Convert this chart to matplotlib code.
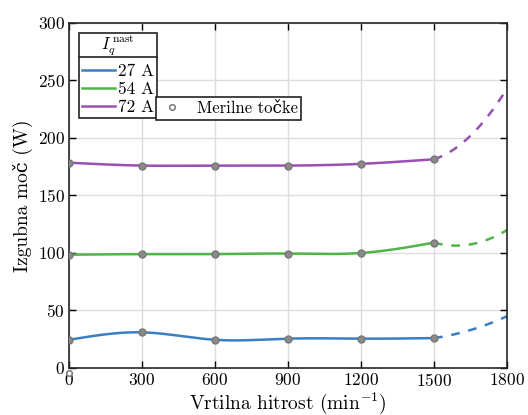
"""Izgubna moc v odvisnosti od vrtilne hitrosti"""

import numpy as np
import matplotlib
matplotlib.use("Agg")
import matplotlib.pyplot as plt
from matplotlib.lines import Line2D

plt.rcParams["font.family"] = ["cmr10", "DejaVu Serif"]
plt.rcParams["mathtext.fontset"] = "cm"
plt.rcParams["axes.formatter.use_mathtext"] = True
plt.rcParams["font.size"] = 12

# measured points
speed = [0, 300, 600, 900, 1200, 1500]
loss_27 = [24.5, 31.0, 24.5, 25.5, 25.5, 26.0]
loss_54 = [98.5, 99.0, 99.0, 99.5, 100.0, 109.0]
loss_72 = [178.5, 176.0, 176.0, 176.0, 177.5, 181.5]

# extrapolated part (dashed)
speed_ext = [1500, 1650, 1800]
ext_27 = [26.0, 33.0, 45.0]
ext_54 = [109.0, 107.5, 120.0]
ext_72 = [181.5, 202.0, 243.0]

labels = ["27 A", "54 A", "72 A"]
colors = ["#3b7fc2", "#4fb548", "#9a4fb4"]
legend_title = r"$I_q^{\,\mathrm{nast}}$"


def natural_spline(x, y, xs):
    x = np.asarray(x, float)
    y = np.asarray(y, float)
    n = len(x)
    h = np.diff(x)
    A = np.zeros((n, n))
    b = np.zeros(n)
    A[0, 0] = A[-1, -1] = 1
    for i in range(1, n - 1):
        A[i, i - 1] = h[i - 1]
        A[i, i] = 2 * (h[i - 1] + h[i])
        A[i, i + 1] = h[i]
        b[i] = 6 * ((y[i + 1] - y[i]) / h[i] - (y[i] - y[i - 1]) / h[i - 1])
    m = np.linalg.solve(A, b)
    k = np.clip(np.searchsorted(x, xs) - 1, 0, n - 2)
    t = xs - x[k]
    hk = h[k]
    a = (m[k + 1] - m[k]) / (6 * hk)
    c = (y[k + 1] - y[k]) / hk - hk * (2 * m[k] + m[k + 1]) / 6
    return y[k] + c * t + m[k] / 2 * t ** 2 + a * t ** 3


fig = plt.figure(figsize=(5.28, 4.15), dpi=100)
ax = fig.add_axes([0.1307, 0.1133, 0.8295, 0.8313])

xs = np.linspace(0, 1500, 300)
xe = np.linspace(1500, 1800, 100)
handles = []
for meas, ext, col, lab in zip([loss_27, loss_54, loss_72], [ext_27, ext_54, ext_72], colors, labels):
    h, = ax.plot(xs, natural_spline(speed, meas, xs), color=col, lw=1.8, label=lab)
    coef = np.polyfit(speed_ext, ext, 2)
    ax.plot(xe, np.polyval(coef, xe), color=col, lw=1.8, ls=(0, (3.5, 3.5)))
    ax.plot(speed, meas, "o", ms=5, mfc="#8a8a8a", mec="#777777", mew=1, zorder=5)
    handles.append(h)

# stray legend marker below origin
ax.plot([0], [-4], "o", ms=4, mfc="white", mec="#808080", mew=1.2, clip_on=False)

ax.set_xlim(0, 1800)
ax.set_ylim(0, 300)
ax.set_xticks(range(0, 1801, 300))
ax.set_yticks(range(0, 301, 50))
ax.grid(True, color="#dddddd", lw=1)
ax.set_axisbelow(True)
ax.tick_params(direction="in", top=True, right=True, length=5, width=1, labelsize=12.5, pad=3)
for s in ax.spines.values():
    s.set_linewidth(1.2)
    s.set_color("#262626")
ax.set_xlabel(r"Vrtilna hitrost (min$^{-1}$)", fontsize=14, labelpad=1)
ax.set_ylabel("Izgubna moč (W)", fontsize=14, labelpad=3)

leg1 = ax.legend(handles=handles, title=legend_title, loc="upper left",
                 bbox_to_anchor=(0.023, 0.971), fancybox=False, framealpha=1,
                 edgecolor="#222222", fontsize=12.5, title_fontsize=12,
                 handlelength=1.9, handletextpad=0.2, borderpad=0.15,
                 labelspacing=0.15, borderaxespad=0)
leg1.get_frame().set_linewidth(1.2)
leg1._legend_box.sep = 3
leg1.get_title().set_alpha(0)  # placeholder only, drawn again below
ax.add_artist(leg1)

mh = Line2D([], [], ls="none", marker="o", ms=4, mfc="white", mec="#808080", mew=1.2)
leg2 = ax.legend(handles=[mh], labels=["Merilne točke"], loc="lower left",
                 bbox_to_anchor=(0.199, 0.719), fancybox=False, framealpha=1,
                 edgecolor="#222222", fontsize=12, handlelength=1.5,
                 handletextpad=0.7, borderpad=0.22, borderaxespad=0)
leg2.get_frame().set_linewidth(1.2)

# title row with a separator line under it
fig.canvas.draw()
r = fig.canvas.get_renderer()
fb = leg1.get_frame().get_window_extent(r)
W, H = fig.bbox.width, fig.bbox.height
fig.add_artist(Line2D([fb.x0 / W, fb.x1 / W], [(fb.y1 - 24) / H] * 2,
                      color="#222222", lw=1.2, zorder=6))
fig.text(0.5 * (fb.x0 + fb.x1) / W, (fb.y1 - 17) / H, legend_title,
         fontsize=12, ha="center", va="baseline", zorder=6)

fig.savefig("out.png", dpi=100)
